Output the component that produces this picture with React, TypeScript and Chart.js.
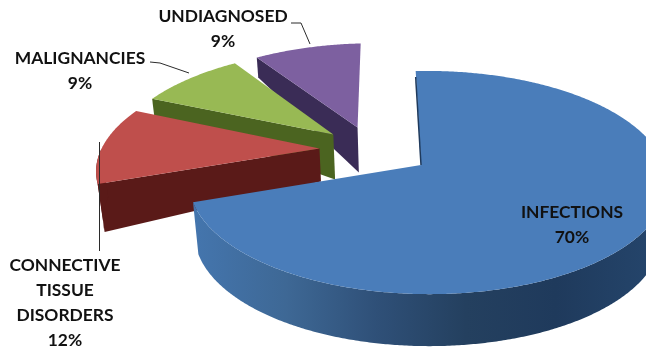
import React, { useEffect, useRef } from "react";
import { Chart, registerables } from "chart.js";

Chart.register(...registerables);

const categories = ["INFECTIONS", "CONNECTIVE TISSUE DISORDERS", "MALIGNANCIES", "UNDIAGNOSED"];
const shares = [70, 12, 9, 9];
const topColors = ["#4a7dba", "#bf4f4c", "#98b954", "#7d60a0"];
const wallColors = ["#2a4a72", "#5a1a18", "#4b6420", "#3a2c56"];
const explode = [26.3, 23, 23, 23];
const wallAtApex = [42, 33, 45, 45];
const wallAtRim = [52, 48, 17, 20];
const blueWallStops = ["#4475ad", "#3e6895", "#2f5078", "#24405f", "#1f3a5c", "#24446a"];

// Pie plane seen through a tilted camera; the origin sits on the apex of the largest slice.
const camera = { cx: 421, cy: 165, a: 236, b: 108.8, p: 0.157, q: 0.03, converge: 0.00045 };

const project = (u: number, v: number, depth = 0): [number, number] => {
  const { cx, cy, a, b, p, q, converge } = camera;
  const w = 1 + p * v - q * u;
  const x = cx + (a * u) / w;
  const y = cy - (b * v) / w;
  return [x + (cx - x) * converge * depth, y + depth];
};

const textBlocks = [
  { lines: ["UNDIAGNOSED"], index: 3, x: 223, y: 16 },
  { lines: ["MALIGNANCIES"], index: 2, x: 80, y: 58 },
  { lines: ["CONNECTIVE", "TISSUE", "DISORDERS"], index: 1, x: 65, y: 265 },
  { lines: ["INFECTIONS"], index: 0, x: 572, y: 212 },
];

const leaders: [number, number][][] = [
  [[291, 23], [301, 23], [310, 44]],
  [[150, 62], [160, 63], [189, 73]],
  [[99.5, 142], [99.5, 251]],
];

const pie3d = {
  id: "pie3d",
  beforeDatasetsDraw(chart: any) {
    const ctx: CanvasRenderingContext2D = chart.ctx;
    const arcs = chart.getDatasetMeta(0).data;
    const STEP = Math.PI / 180;

    const props = (arc: any) => arc.getProps(["startAngle", "endAngle", "outerRadius"], true);
    const shift = (arc: any): [number, number] => {
      const { startAngle, endAngle, outerRadius } = props(arc);
      const mid = (startAngle + endAngle) / 2;
      const off = arc.options.offset / outerRadius;
      return [Math.cos(mid) * off, -Math.sin(mid) * off];
    };
    const [originU, originV] = shift(arcs[0]);

    const trace = (pts: [number, number][]) => {
      ctx.beginPath();
      pts.forEach(([x, y], n) => (n ? ctx.lineTo(x, y) : ctx.moveTo(x, y)));
      ctx.closePath();
    };

    for (let i = arcs.length - 1; i >= 0; i--) {
      const arc = arcs[i];
      const { startAngle, endAngle } = props(arc);
      const [ou, ov] = shift(arc);
      const du = ou - originU;
      const dv = ov - originV;
      const rimUV = (t: number): [number, number] => [du + Math.cos(t), dv - Math.sin(t)];

      // cut face on the leading radial edge
      const [su, sv] = rimUV(startAngle);
      trace([
        project(su, sv),
        project(du, dv),
        project(du, dv, wallAtApex[i]),
        project(su, sv, wallAtRim[i]),
      ]);
      ctx.fillStyle = wallColors[i];
      if (i !== 0) ctx.fill();

      // outer rim where it faces the viewer
      const from = Math.max(startAngle, -15 * STEP);
      const to = Math.min(endAngle, Math.PI);
      if (to > from) {
        const upper: [number, number][] = [];
        const lower: [number, number][] = [];
        for (let t = from; t <= to + 1e-6; t += STEP / 2) {
          const [u, v] = rimUV(t);
          upper.push(project(u, v));
          lower.unshift(project(u, v, wallAtRim[i]));
        }
        trace([...upper, ...lower]);
        if (i === 0) {
          const g = ctx.createLinearGradient(196, 0, 646, 0);
          blueWallStops.forEach((c, n) => g.addColorStop(n / (blueWallStops.length - 1), c));
          ctx.fillStyle = g;
        } else {
          ctx.fillStyle = wallColors[i];
        }
        ctx.fill();
      }

      // top face
      const face: [number, number][] = [project(du, dv)];
      for (let t = startAngle; t < endAngle; t += STEP / 2) {
        const [u, v] = rimUV(t);
        face.push(project(u, v));
      }
      const [eu, ev] = rimUV(endAngle);
      face.push(project(eu, ev));
      trace(face);
      ctx.fillStyle = arc.options.backgroundColor;
      ctx.fill();

      // thin dark sliver along the far cut of the big slice
      if (i === 0) {
        const a = project(su, sv);
        const b = project(du, dv);
        ctx.beginPath();
        ctx.moveTo(a[0], a[1] + 6);
        ctx.lineTo(b[0], b[1]);
        ctx.strokeStyle = "#1f3a5c";
        ctx.lineWidth = 1.5;
        ctx.stroke();
      }
    }
    return false;
  },
  afterDraw(chart: any) {
    const ctx: CanvasRenderingContext2D = chart.ctx;
    ctx.save();
    ctx.strokeStyle = "#2b2b2b";
    ctx.lineWidth = 1;
    leaders.forEach((line) => {
      ctx.beginPath();
      line.forEach(([x, y], n) => (n ? ctx.lineTo(x, y) : ctx.moveTo(x, y)));
      ctx.stroke();
    });
    ctx.fillStyle = "#111111";
    ctx.font = 'bold 17.4px "Lato", "Open Sans", sans-serif';
    ctx.textAlign = "center";
    ctx.textBaseline = "middle";
    textBlocks.forEach((block) => {
      const rows = [...block.lines, `${shares[block.index]}%`];
      rows.forEach((row, n) => ctx.fillText(row, block.x, block.y + n * 25.2));
    });
    ctx.restore();
  },
};

export default function App() {
  const ref = useRef<HTMLCanvasElement>(null);
  useEffect(() => {
    const chart = new Chart(ref.current!, {
      type: "pie",
      data: {
        labels: categories,
        datasets: [
          {
            data: shares,
            backgroundColor: topColors,
            offset: explode,
            borderWidth: 0,
          },
        ],
      },
      options: {
        animation: false,
        responsive: false,
        rotation: -1.5,
        radius: 100,
        plugins: { legend: { display: false }, tooltip: { enabled: false } },
      },
      plugins: [pie3d],
    });
    return () => chart.destroy();
  }, []);
  return (
    <div style={{ position: "fixed", left: 0, top: 0, width: 646, height: 348, background: "#fff" }}>
      <canvas ref={ref} width={646} height={348} style={{ display: "block" }} />
    </div>
  );
}
